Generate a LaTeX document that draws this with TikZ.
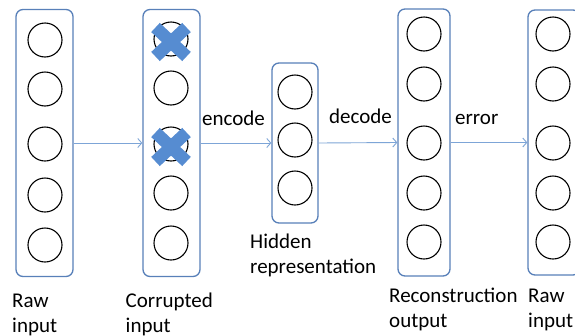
\documentclass[tikz,border=0pt]{standalone}
\usepackage{fontspec}
\setmainfont{Carlito}
\usetikzlibrary{arrows.meta}

\definecolor{boxblue}{RGB}{88,128,185}
\definecolor{arrowblue}{RGB}{125,165,215}
\definecolor{crossblue}{RGB}{86,140,209}

\tikzset{
  layer/.style={draw=boxblue, line width=1.3pt, rounded corners=7pt,
    inner sep=0pt, fill=white},
  unit/.style={circle, draw=black, line width=1.1pt, minimum size=34pt,
    inner sep=0pt},
  flow/.style={draw=arrowblue, line width=0.9pt,
    -{Straight Barb[length=4pt,width=9pt,line width=0.9pt]}},
  lbl/.style={anchor=base west, inner sep=0pt, align=left,
    font=\fontsize{21pt}{25pt}\selectfont},
  dropmark/.style={draw=crossblue, line width=12.5pt, line cap=butt}
}

\begin{document}
\begin{tikzpicture}[x=1pt, y=-1pt]
\clip (0,0) rectangle (575,335);
\fill[white] (0,0) rectangle (575,335);

% layers
\node[layer, minimum width=57pt, minimum height=267pt] (raw) at (44.5,143) {};
\node[layer, minimum width=57pt, minimum height=267pt] (cor) at (171.5,143) {};
\node[layer, minimum width=46pt, minimum height=160pt] (hid) at (295,143) {};
\node[layer, minimum width=52pt, minimum height=267pt] (rec) at (424,142.5) {};
\node[layer, minimum width=52pt, minimum height=265pt] (tgt) at (554,142.5) {};

% units of each layer
\foreach \y [count=\i] in {40,89,144,195,245}
  \node[unit] (raw\i) at (45,\y) {};
\foreach \y [count=\i] in {39,88,144,193,243}
  \node[unit] (cor\i) at (171,\y) {};
\foreach \y [count=\i] in {92,140,188}
  \node[unit] (hid\i) at (295,\y) {};
\foreach \y [count=\i] in {34,84,143,193,242}
  \node[unit] (rec\i) at (424,\y) {};
\foreach \y [count=\i] in {34,84,143,193,242}
  \node[unit] (tgt\i) at (553,\y) {};

% dropped inputs
\foreach \n in {cor1,cor3} {
  \coordinate (m) at ([yshift=-3pt]\n.center);
  \draw[dropmark] ([shift={(-15.5,-14.5)}]m) -- ([shift={(15.5,14.5)}]m);
  \draw[dropmark] ([shift={(-15.5,14.5)}]m) -- ([shift={(15.5,-14.5)}]m);
}

% connectors
\draw[flow] (raw.east) -- (cor.west);
\draw[flow] (cor.east) -- (hid.west);
\draw[flow] (hid.east) -- (rec.west);
\draw[flow] (rec.east) -- (tgt.west);

% connector labels
\node[lbl] (encl) at (202,125) {encode};
\node[lbl] (decl) at (329,123) {decode};
\node[lbl] (errl) at (455,124) {error};

% layer captions (anchored at the baseline of their last line)
\node[lbl] (rawl) at (12,332) {Raw\\input};
\node[lbl] (corl) at (125.5,332) {Corrupted\\input};
\node[lbl] (hidl) at (250,273) {Hidden\\representation};
\node[lbl] (recl) at (389,327) {Reconstruction\\output};
\node[lbl] (tgtl) at (528,327) {Raw\\input};
\end{tikzpicture}
\end{document}
